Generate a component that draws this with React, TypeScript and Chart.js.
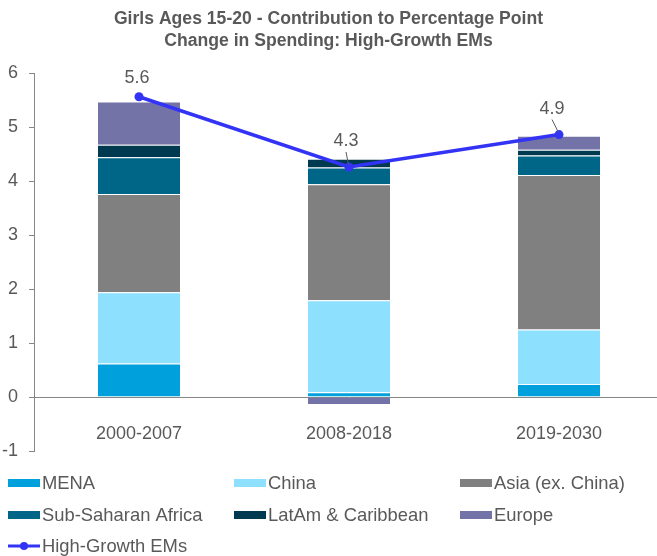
import React, { useEffect, useRef } from "react";
import { Chart, registerables } from "chart.js";

Chart.register(...registerables);

const categories = ["2000-2007", "2008-2018", "2019-2030"];
const mena = [0.62, 0.09, 0.24];
const china = [1.32, 1.7, 1.01];
const asiaExChina = [1.82, 2.15, 2.86];
const subSaharanAfrica = [0.68, 0.31, 0.36];
const latAmCaribbean = [0.23, 0.16, 0.11];
const europe = [0.8, -0.15, 0.26];
const highGrowthEMs = [5.56, 4.26, 4.86];
const yTicks = [-1, 0, 1, 2, 3, 4, 5, 6];
const titleLines = [
  "Girls Ages 15-20 - Contribution to Percentage Point",
  "Change in Spending: High-Growth EMs",
];

const TEXT = "#595959";
const AXIS = "#868686";
const FONT = "'Liberation Sans', Arial, sans-serif";
const VIEW_W = 657;
const labelOffsets = [
  { dx: -2, dy: -19, leader: false },
  { dx: -3, dy: -26, leader: true },
  { dx: -7, dy: -26, leader: true },
];

const titlePlugin = {
  id: "customTitle",
  afterDraw(chart: any) {
    const ctx = chart.ctx;
    ctx.save();
    ctx.fillStyle = TEXT;
    ctx.font = `bold 17.6px ${FONT}`;
    ctx.textAlign = "center";
    ctx.textBaseline = "middle";
    titleLines.forEach((t, i) => ctx.fillText(t, VIEW_W / 2, 19 + i * 22));
    ctx.restore();
  },
};

const pointLabelPlugin = {
  id: "pointLabels",
  afterDatasetsDraw(chart: any) {
    const ctx = chart.ctx;
    const idx = chart.data.datasets.findIndex((d: any) => d.type === "line");
    const meta = chart.getDatasetMeta(idx);
    const data = chart.data.datasets[idx].data;
    ctx.save();
    ctx.font = `18px ${FONT}`;
    ctx.fillStyle = TEXT;
    ctx.textAlign = "center";
    ctx.textBaseline = "middle";
    meta.data.forEach((pt: any, i: number) => {
      const o = labelOffsets[i];
      const lx = pt.x + o.dx;
      const ly = pt.y + o.dy;
      if (o.leader) {
        ctx.strokeStyle = TEXT;
        ctx.lineWidth = 1;
        ctx.beginPath();
        ctx.moveTo(lx, ly + 11);
        ctx.lineTo(pt.x - 0.5, pt.y - 2);
        ctx.stroke();
      }
      ctx.fillText(Number(data[i]).toFixed(1), lx, ly);
    });
    ctx.restore();
  },
};

const legendPlugin = {
  id: "customLegend",
  afterDraw(chart: any) {
    const ctx = chart.ctx;
    const colX = [8, 234, 460];
    const rowY = [483, 515, 546];
    ctx.save();
    ctx.font = `18.4px ${FONT}`;
    ctx.textBaseline = "middle";
    ctx.textAlign = "left";
    chart.data.datasets.forEach((ds: any, i: number) => {
      const x = colX[i % 3];
      const y = rowY[Math.floor(i / 3)];
      if (ds.type === "line") {
        ctx.strokeStyle = ds.borderColor;
        ctx.lineWidth = 3;
        ctx.beginPath();
        ctx.moveTo(x, y);
        ctx.lineTo(x + 32, y);
        ctx.stroke();
        ctx.fillStyle = ds.borderColor;
        ctx.beginPath();
        ctx.arc(x + 16, y, 4, 0, Math.PI * 2);
        ctx.fill();
      } else {
        ctx.fillStyle = ds.backgroundColor;
        ctx.fillRect(x, y - 4, 32, 8);
      }
      ctx.fillStyle = TEXT;
      ctx.fillText(ds.label, x + 34, y + 1);
    });
    ctx.restore();
  },
};

export default function App() {
  const ref = useRef<HTMLCanvasElement | null>(null);
  useEffect(() => {
    document.body.style.margin = "0";
    document.body.style.overflow = "hidden";
    const bar = (label: string, data: number[], color: string) => ({
      type: "bar" as const,
      label,
      data,
      backgroundColor: color,
      borderColor: "rgba(255,255,255,0.35)",
      borderWidth: 1,
      order: 1,
      stack: "bars",
      barPercentage: 0.4,
      categoryPercentage: 1,
    });
    const chart = new Chart(ref.current as HTMLCanvasElement, {
      data: {
        labels: categories,
        datasets: [
          bar("MENA", mena, "#00A0DC"),
          bar("China", china, "#8EE0FF"),
          bar("Asia (ex. China)", asiaExChina, "#808080"),
          bar("Sub-Saharan Africa", subSaharanAfrica, "#006688"),
          bar("LatAm & Caribbean", latAmCaribbean, "#003A50"),
          bar("Europe", europe, "#7373A8"),
          {
            type: "line" as const,
            label: "High-Growth EMs",
            data: highGrowthEMs,
            borderColor: "#3333F5",
            backgroundColor: "#3333F5",
            borderWidth: 3.5,
            pointRadius: 4.5,
            pointBackgroundColor: "#3333F5",
            pointBorderWidth: 0,
            order: 0,
            stack: "line",
            tension: 0,
          },
        ] as any,
      },
      options: {
        animation: false,
        responsive: false,
        devicePixelRatio: 1,
        layout: { autoPadding: false, padding: { top: 73, bottom: 105, left: 0, right: 0 } },
        plugins: { legend: { display: false }, tooltip: { enabled: false }, title: { display: false } },
        scales: {
          x: {
            type: "category",
            stacked: true,
            offset: true,
            position: { y: 0 } as any,
            grid: { display: false },
            border: { display: true, color: AXIS, width: 1 },
            ticks: { color: TEXT, font: { family: FONT, size: 18 }, padding: 18, maxRotation: 0, autoSkip: false },
          },
          y: {
            stacked: true,
            min: -1,
            max: 6,
            afterBuildTicks: (s: any) => {
              s.ticks = yTicks.map((v) => ({ value: v }));
            },
            afterFit: (s: any) => {
              s.width = 34;
            },
            grid: { display: true, drawOnChartArea: false, drawTicks: true, tickLength: 5, color: AXIS },
            border: { display: true, color: AXIS, width: 1 },
            ticks: { color: TEXT, font: { family: FONT, size: 18 }, padding: 11 },
          },
        },
      },
      plugins: [titlePlugin, pointLabelPlugin, legendPlugin],
    });
    return () => chart.destroy();
  }, []);
  return (
    <div style={{ width: VIEW_W, height: 556, overflow: "hidden", position: "relative" }}>
      <canvas ref={ref} width={664} height={556} style={{ display: "block" }} />
    </div>
  );
}
